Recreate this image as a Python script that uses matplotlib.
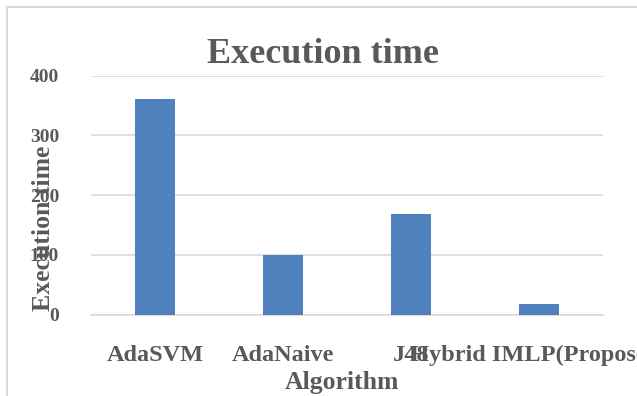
import matplotlib
matplotlib.use("Agg")
import matplotlib.pyplot as plt
from matplotlib.lines import Line2D

categories = ["AdaSVM", "AdaNaive", "J48", "Hybrid IMLP(Proposed)"]
exec_time = [361, 100, 169, 17]
yticks = [0, 100, 200, 300, 400]

W, H = 637, 396
fig = plt.figure(figsize=(W / 100, H / 100), dpi=100)
plt.rcParams['font.family'] = ['Liberation Serif', 'DejaVu Serif']

txt = '#595959'
grid = '#d9d9d9'

ax = fig.add_axes([91 / W, 1 - 314.5 / H, 512 / W, 239 / H])
x = list(range(len(categories)))
ax.bar(x, exec_time, width=0.31, color='#4f81bd', zorder=3)
ax.set_xlim(-0.5, len(categories) - 0.5)
ax.set_ylim(0, 400)
ax.set_yticks(yticks)
ax.set_yticklabels([str(v) for v in yticks], fontsize=14, fontweight='bold', color=txt)
ax.set_xticks(x)
ax.set_xticklabels(categories, fontsize=17.5, fontweight='bold', color=txt)
ax.tick_params(axis='both', length=0)
ax.tick_params(axis='y', pad=23)
ax.tick_params(axis='x', pad=22)
ax.grid(axis='y', color=grid, linewidth=1.2, zorder=0)
for s in ['top', 'right', 'left']:
    ax.spines[s].set_visible(False)
ax.spines['bottom'].set_color(grid)
ax.spines['bottom'].set_linewidth(1.2)

ax.set_ylabel("Execution time", fontsize=18.5, fontweight='bold', color=txt)
ax.yaxis.set_label_coords(-0.071, 0.36)
ax.set_xlabel("Algorithm", fontsize=18.5, fontweight='bold', color=txt)
ax.xaxis.set_label_coords(0.49, -0.235)

fig.text(323 / W, 1 - 63 / H, "Execution time", fontsize=26, fontweight='bold',
         color=txt, ha='center', va='baseline')

# outer chart border (left and top visible)
fig.add_artist(Line2D([7 / W, 7 / W], [0, 1 - 7 / H], transform=fig.transFigure,
                      color=grid, linewidth=1.5))
fig.add_artist(Line2D([7 / W, 1], [1 - 7 / H, 1 - 7 / H], transform=fig.transFigure,
                      color=grid, linewidth=1.5))

fig.savefig("out.png", dpi=100)
